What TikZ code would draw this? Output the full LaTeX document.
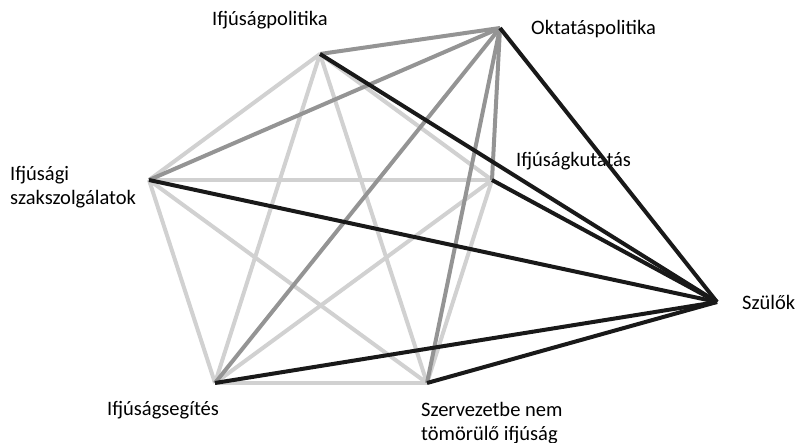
\documentclass[tikz,border=0pt]{standalone}
\usepackage{fontspec}
\setmainfont{Carlito}
\usepackage{tikz}

\begin{document}
\begin{tikzpicture}[x=1pt,y=-1pt]
\tikzstyle{light} = [draw=black!18, line width=4pt]
\tikzstyle{middle} = [draw=black!42, line width=4pt]
\tikzstyle{dark} = [draw=black!90, line width=4pt]
\tikzstyle{lbl} = [inner sep=0pt, anchor=base west, align=left, font=\fontsize{20.5}{24}\selectfont]
%\tikzstyle{pt} = [circle, fill, inner sep=1pt]
\useasboundingbox (0,0) rectangle (798,443);
% points
\coordinate (politika) at (320,54);
\coordinate (oktatas) at (500,28);
\coordinate (kutatas) at (492,180);
\coordinate (szolg) at (149,180);
\coordinate (szulok) at (717,302);
\coordinate (segites) at (215,383);
\coordinate (szervezet) at (427,383);
% labels (base = last line)
\node[lbl] (lpolitika) at (212,26) {Ifjúságpolitika};
\node[lbl] (loktatas) at (531,35) {Oktatáspolitika};
\node[lbl] (lkutatas) at (516,167) {Ifjúságkutatás};
\node[lbl] (lszolg) at (10,205) {Ifjúsági\\szakszolgálatok};
\node[lbl] (lszulok) at (742,310) {Szülők};
\node[lbl] (lsegites) at (107,416) {Ifjúságsegítés};
\node[lbl] (lszervezet) at (421,440) {Szervezetbe nem\\tömörülő ifjúság};
% edges
\foreach \a/\b in {politika/kutatas, politika/szolg, politika/segites, politika/szervezet,
    szolg/kutatas, szolg/segites, szolg/szervezet, kutatas/segites, kutatas/szervezet, segites/szervezet}
    \draw[light] (\a) -- (\b);
\foreach \a in {politika, szolg, kutatas, segites, szervezet}
    \draw[middle] (oktatas) -- (\a);
\foreach \a in {oktatas, politika, kutatas, szolg, segites, szervezet}
    \draw[dark] (szulok) -- (\a);
\end{tikzpicture}
\end{document}
